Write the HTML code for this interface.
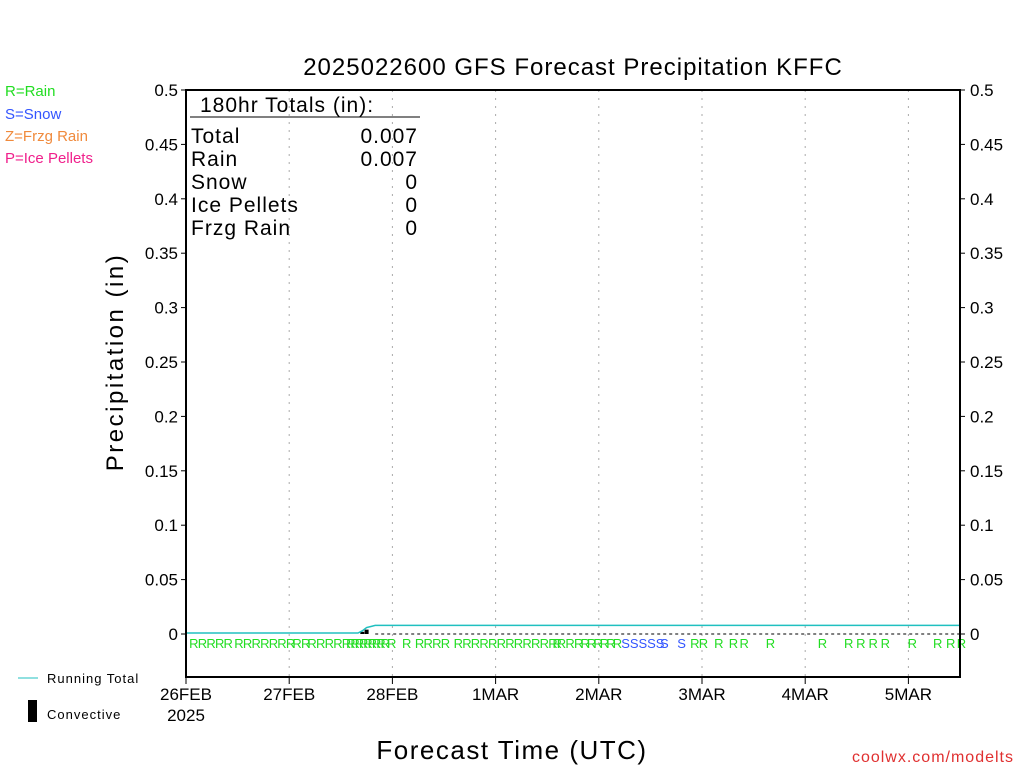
<!DOCTYPE html>
<html><head><meta charset="utf-8"><style>
body{margin:0;background:#fff;}
svg text{font-family:"Liberation Sans","DejaVu Sans",sans-serif;}
</style></head><body>
<svg width="1024" height="768" xmlns="http://www.w3.org/2000/svg" id="chart">
<text x="573" y="75" font-size="24" text-anchor="middle" letter-spacing="1">2025022600 GFS Forecast Precipitation KFFC</text>
<g font-size="15">
<text x="5" y="96" fill="#22dd22">R=Rain</text>
<text x="5" y="119" fill="#3355ff">S=Snow</text>
<text x="5" y="141" fill="#f08a3c">Z=Frzg Rain</text>
<text x="5" y="163" fill="#f0208c">P=Ice Pellets</text>
</g>
<text transform="translate(123,362) rotate(-90)" font-size="24" text-anchor="middle" letter-spacing="2.5">Precipitation (in)</text>
<text x="512" y="759" font-size="26" text-anchor="middle" letter-spacing="1.5">Forecast Time (UTC)</text>
<text x="1014" y="762" font-size="16" fill="#e03030" text-anchor="end" letter-spacing="1">coolwx.com/modelts</text>
<g id="grid"></g>
<g id="yticks"></g>
<g id="xticks"></g>
<g id="types" font-size="13"></g>
<g id="series"></g>
<rect x="186" y="90" width="774" height="587" fill="none" stroke="#000" stroke-width="2"/>
<g font-size="21" letter-spacing="1">
<text x="200" y="112">180hr Totals (in):</text>
<line x1="190" y1="117" x2="420" y2="117" stroke="#000"/>
<text x="191" y="143">Total</text><text x="418" y="143" text-anchor="end">0.007</text>
<text x="191" y="166">Rain</text><text x="418" y="166" text-anchor="end">0.007</text>
<text x="191" y="189">Snow</text><text x="418" y="189" text-anchor="end">0</text>
<text x="191" y="212">Ice Pellets</text><text x="418" y="212" text-anchor="end">0</text>
<text x="191" y="235">Frzg Rain</text><text x="418" y="235" text-anchor="end">0</text>
</g>
<line x1="18" y1="678" x2="38" y2="678" stroke="#20c0c0"/>
<text x="47" y="683" font-size="13" letter-spacing="1">Running Total</text>
<rect x="28" y="700" width="9" height="22" fill="#000"/>
<text x="47" y="719" font-size="13" letter-spacing="1">Convective</text>
</svg>
<script>
const yTicks=[0,0.05,0.1,0.15,0.2,0.25,0.3,0.35,0.4,0.45,0.5];
const yTickLabels=["0","0.05","0.1","0.15","0.2","0.25","0.3","0.35","0.4","0.45","0.5"];
const dayHours=[0,24,48,72,96,120,144,168];
const dayLabels=["26FEB","27FEB","28FEB","1MAR","2MAR","3MAR","4MAR","5MAR"];
const totalHours=[0,40,41,42,43,44,180];
const totalValues=[0,0,0.002,0.005,0.006,0.007,0.007];
const convHours=[41,42];
const convValues=[0.002,0.004];
const typeHours=[0.5,2.5,4.5,6.5,8.5,11,13,15,17,19,21,23,24.5,26.5,28,30,32,34,36,37,38,39,40,41,42,43,44,45,46.5,50,53,55,57,59,62,64,66,68,70,72,74,76,78,80,82,84,85,86,88,90,91.5,93,94.5,96,97.5,99,101,103,105,107,109,110,114,117,119,122.6,126,128.5,134.6,146.7,152.8,155.6,158.5,161.3,167.6,173.5,176.5,179];
const typeCodes="RRRRRRRRRRRRRRRRRRRRRRRRRRRRRRRRRRRRRRRRRRRRRRRRRRRRRRRRSSSSSSSRRRRRRRRRRRRRRR".split("");
const X0=186,X1=960,Y0=634,Y1=90,HMAX=180,VMAX=0.5;
const xs=h=>X0+(X1-X0)*h/HMAX;
const ys=v=>Y0-(Y0-Y1)*v/VMAX;
const NS="http://www.w3.org/2000/svg";
function mk(tag,attrs,parent,txt){const e=document.createElementNS(NS,tag);for(const k in attrs)e.setAttribute(k,attrs[k]);if(txt!==undefined)e.textContent=txt;document.getElementById(parent).appendChild(e);return e;}
yTicks.forEach((v,i)=>{
 const y=ys(v);
 let e=mk('line',{x1:X0-5,x2:X0,y1:y,y2:y,stroke:'#000'},'yticks');
 
 
 e=mk('line',{x1:X1,x2:X1+5,y1:y,y2:y,stroke:'#000'},'yticks');
 
 
 e=mk('text',{x:X0-8,y:y+6,'font-size':17,'text-anchor':'end'},'yticks',yTickLabels[i]);
 
 
 e=mk('text',{x:X1+10,y:y+6,'font-size':17},'yticks',yTickLabels[i]);
 
 
});
dayHours.forEach((h,i)=>{
 const x=xs(h);
 if(i>0){let g=mk('line',{x1:x,x2:x,y1:Y1,y2:677,stroke:'#aaa','stroke-dasharray':'2,6'},'grid');
 
 }
 let e=mk('line',{x1:x,x2:x,y1:677,y2:684,stroke:'#000'},'xticks');
 
 
 e=mk('text',{x:x,y:700,'font-size':17,'text-anchor':'middle'},'xticks',dayLabels[i]);
 
 
});
let yr=mk('text',{x:X0,y:721,'font-size':17,'text-anchor':'middle'},'xticks','2025');


typeHours.forEach((h,i)=>{
 const c=typeCodes[i]||'R';
 const col={R:'#22dd22',S:'#3355ff',Z:'#f08a3c',P:'#f0208c'}[c];
 const e=mk('text',{x:xs(h)+1,y:648,fill:col},'types',c);
 
 
});
let z=mk('line',{x1:xs(44),x2:X1,y1:ys(0),y2:ys(0),stroke:'#000','stroke-dasharray':'3,3'},'series');


convHours.forEach((h,i)=>{
 const e=mk('rect',{x:xs(h)-2,y:ys(convValues[i]),width:4,height:ys(0)-ys(convValues[i]),fill:'#000'},'series');
 
 
});
const pl=mk('polyline',{points:totalHours.map((h,i)=>xs(h)+','+(ys(totalValues[i])-1)).join(' '),fill:'none',stroke:'#20c0c0','stroke-width':1.5},'series');


</script>
</body></html>
